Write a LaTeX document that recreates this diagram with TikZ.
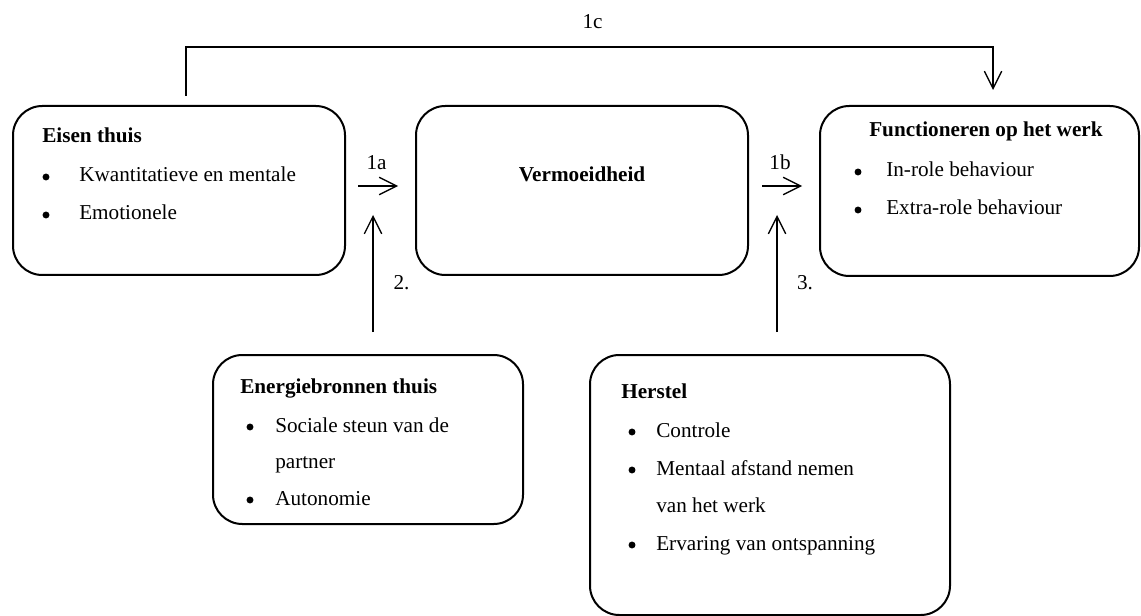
\documentclass[tikz,border=0pt]{standalone}
\usepackage{fontspec}
\setmainfont{Liberation Serif}
\usetikzlibrary{arrows.meta,calc}
\tikzset{
  box/.style={draw, line width=1.5pt, rounded corners=22pt, inner sep=0pt, outer sep=0pt},
  arr/.style={line width=1pt, -{Straight Barb[length=13pt,width=13pt]}},
  txt/.style={anchor=base west, inner sep=0pt},
  bul/.style={circle, fill, inner sep=0pt, minimum size=5.2pt},
  lbl/.style={anchor=base, inner sep=0pt},
}
\begin{document}
\begin{tikzpicture}[x=0.75pt, y=-0.75pt, font=\fontsize{15.9}{18}\selectfont]
\path[use as bounding box] (0,0) rectangle (1141,616);

% boxes
\node[box, minimum width=249pt, minimum height=126.75pt] (eisen) at (179,190.5) {};
\node[box, minimum width=249pt, minimum height=126.75pt] (verm) at (582,190.5) {};
\node[box, minimum width=239.25pt, minimum height=127.5pt] (func) at (979.5,191) {};
\node[box, minimum width=232.5pt, minimum height=126.75pt] (energ) at (368,439.5) {};
\node[box, minimum width=270pt, minimum height=195pt] (herstel) at (770,485) {};

% Eisen thuis
\node[txt] (t1) at (42,143) {\textbf{Eisen thuis}};
\node[bul] (b11) at (46,177) {};
\node[txt] (t11) at (79,182) {Kwantitatieve en mentale};
\node[bul] (b12) at (46,215) {};
\node[txt] (t12) at (79,220) {Emotionele};

% Vermoeidheid
\node[lbl] (t2) at (582,182) {\textbf{Vermoeidheid}};

% Functioneren
\node[txt] (t3) at (869,137) {\textbf{Functioneren op het werk}};
\node[bul] (b31) at (858,172) {};
\node[txt] (t31) at (886,177) {In-role behaviour};
\node[bul] (b32) at (858,210) {};
\node[txt] (t32) at (886,215) {Extra-role behaviour};

% Energiebronnen
\node[txt] (t4) at (240,393) {\textbf{Energiebronnen thuis}};
\node[bul] (b41) at (250,427) {};
\node[txt] (t41) at (275,432) {Sociale steun van de};
\node[txt] (t42) at (275,468) {partner};
\node[bul] (b43) at (250,500) {};
\node[txt] (t43) at (275,505) {Autonomie};

% Herstel
\node[txt] (t5) at (621,398) {\textbf{Herstel}};
\node[bul] (b51) at (632,432) {};
\node[txt] (t51) at (656,437) {Controle};
\node[bul] (b52) at (632,470) {};
\node[txt] (t52) at (656,475) {Mentaal afstand nemen};
\node[txt] (t53) at (656,512) {van het werk};
\node[bul] (b54) at (632,545) {};
\node[txt] (t54) at (656,550) {Ervaring van ontspanning};

% connectors
\draw[arr] ($(eisen.east)+(13,-4.5)$) -- ($(verm.west)+(-18,-4.5)$);
\draw[arr] ($(verm.east)+(14,-4.5)$) -- ($(func.west)+(-18,-5)$);
\draw[arr] ($(energ.north)+(5,-23)$) -- ++(0,-117);
\draw[arr] ($(herstel.north)+(7,-23)$) -- ++(0,-117);
\draw[arr] ($(eisen.north)+(7,-10)$) -- ++(0,-49) -| ($(func.north)+(13.5,-16)$);

% labels
\node[lbl] (l1a) at (376.5,170) {1a};
\node[lbl] (l1b) at (780,170) {1b};
\node[lbl] (l2) at (401.5,290) {2.};
\node[lbl] (l3) at (805,290) {3.};
\node[lbl] (l1c) at (592.5,29) {1c};
\end{tikzpicture}
\end{document}
